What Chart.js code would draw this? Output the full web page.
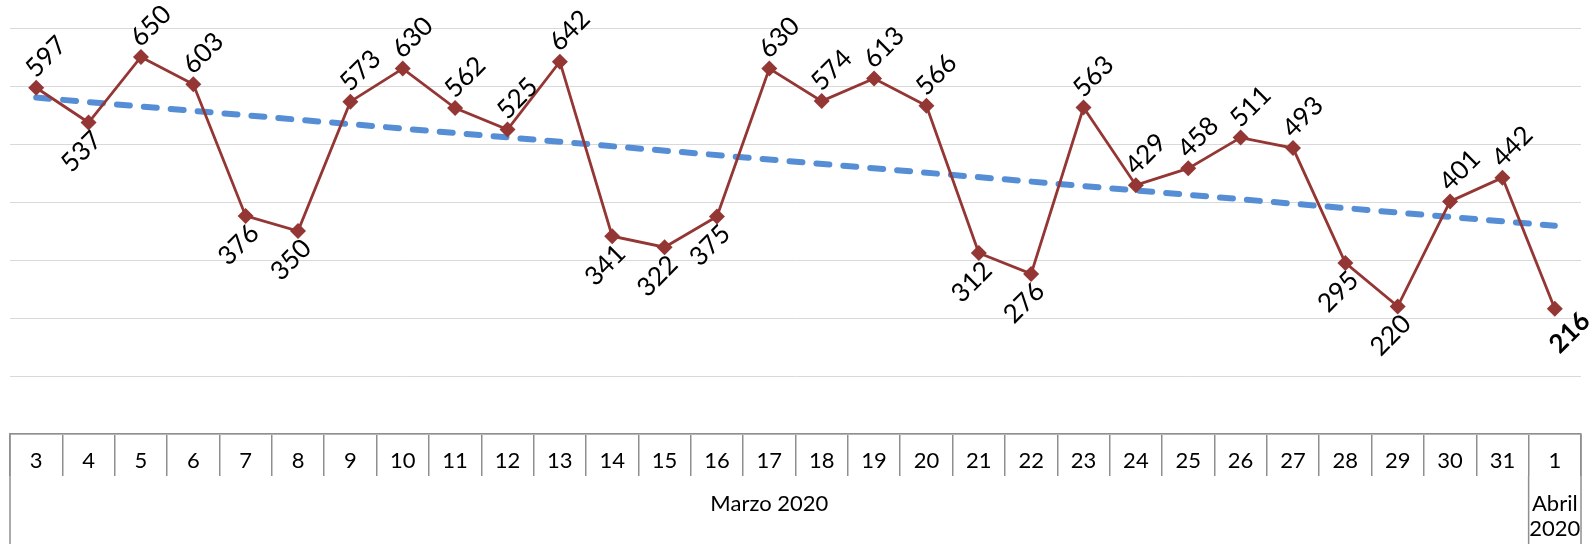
<!DOCTYPE html>
<html>
<head>
<meta charset="utf-8">
<script src="https://cdn.jsdelivr.net/npm/chart.js@4/dist/chart.umd.min.js"></script>
<style>
  html, body { margin: 0; padding: 0; background: #fff; }
  #wrap { width: 1590px; height: 544px; }
</style>
</head>
<body>
<div id="wrap"><canvas id="myChart"></canvas></div>
<script>
// dias (marzo 3 -> abril 1)
const dias = ['3', '4', '5', '6', '7', '8', '9', '10', '11', '12', '13', '14', '15', '16', '17',
    '18', '19', '20', '21', '22', '23', '24', '25', '26', '27', '28', '29', '30', '31', '1'];
const casos = [597, 537, 650, 603, 376, 350, 573, 630, 562, 525, 642, 341, 322, 375, 630,
    574, 613, 566, 312, 276, 563, 429, 458, 511, 493, 295, 220, 401, 442, 216];
// linea de tendencia: valores leidos al inicio y al final
const tendenciaExtremos = [580, 359];
const meses = ['Marzo 2020', 'Abril 2020'];
const diasPorMes = [29, 1];
const yTicks = [0, 100, 200, 300, 400, 500, 600, 700];

const FONT = 'Lato, "Noto Sans", sans-serif';
const GRIS_TABLA = '#8f8f8f';

const tendencia = casos.map((v, i) => {
    if (i === 0) return tendenciaExtremos[0];
    if (i === casos.length - 1) return tendenciaExtremos[1];
    return null;
});

function valorTendencia(i) {
    const n = casos.length - 1;
    return tendenciaExtremos[0] + (tendenciaExtremos[1] - tendenciaExtremos[0]) * i / n;
}

// etiquetas de valor giradas 45 grados
const etiquetas = {
    id: 'etiquetas',
    afterDatasetsDraw(chart) {
        const ctx = chart.ctx;
        const meta = chart.getDatasetMeta(0);
        ctx.save();
        ctx.textAlign = 'center';
        ctx.textBaseline = 'middle';
        ctx.fillStyle = '#000';
        meta.data.forEach((pt, i) => {
            const v = casos[i];
            const arriba = v >= valorTendencia(i);
            const ultimo = i === casos.length - 1;
            ctx.font = (ultimo ? 'bold ' : '') + '26px ' + FONT;
            let dx = arriba ? 10 : -7;
            let dy = arriba ? -31 : 29;
            if (ultimo) { dx = 15; dy = 24; }
            ctx.save();
            ctx.translate(pt.x + dx, pt.y + dy);
            ctx.rotate(-Math.PI / 4);
            ctx.fillText(String(v), 0, 0);
            ctx.restore();
        });
        ctx.restore();
    }
};

// tabla del eje x: dias, meses y lineas exteriores
const tablaEje = {
    id: 'tablaEje',
    afterDraw(chart) {
        const ctx = chart.ctx;
        const x = chart.scales.x;
        const ancho = x.getPixelForTick(1) - x.getPixelForTick(0);
        const top = chart.chartArea.bottom;
        const bottom = chart.height;
        ctx.save();
        ctx.strokeStyle = GRIS_TABLA;
        ctx.lineWidth = 1.5;
        ctx.fillStyle = '#000';
        ctx.textAlign = 'center';
        ctx.textBaseline = 'middle';
        ctx.font = '22px ' + FONT;
        dias.forEach((d, i) => ctx.fillText(d, x.getPixelForTick(i), top + 27));
        let inicio = 0;
        const bordes = [x.getPixelForTick(0) - ancho / 2];
        meses.forEach((m, k) => {
            const fin = inicio + diasPorMes[k] - 1;
            const x0 = x.getPixelForTick(inicio) - ancho / 2;
            const x1 = x.getPixelForTick(fin) + ancho / 2;
            bordes.push(x1);
            let lineas = [m];
            if (ctx.measureText(m).width > x1 - x0 - 4) lineas = m.split(' ');
            lineas.forEach((t, j) => ctx.fillText(t, (x0 + x1) / 2, top + 70 + j * 25));
            inicio = fin + 1;
        });
        bordes.forEach((bx, k) => {
            ctx.beginPath();
            ctx.moveTo(bx, k === 0 || k === bordes.length - 1 ? top : top + 42);
            ctx.lineTo(bx, bottom);
            ctx.stroke();
        });
        ctx.restore();
    }
};

const config = {
    type: 'line',
    data: {
        labels: dias,
        datasets: [{
            label: 'Casos',
            data: casos,
            borderColor: '#943634',
            backgroundColor: '#943634',
            borderWidth: 2.8,
            pointStyle: 'rectRot',
            pointRadius: 8,
            pointBackgroundColor: '#943634',
            pointBorderWidth: 0,
            tension: 0,
            fill: false,
        }, {
            label: 'Tendencia',
            data: tendencia,
            borderColor: '#558ed5',
            borderWidth: 6,
            borderDash: [13, 14],
            borderCapStyle: 'round',
            pointRadius: 0,
            spanGaps: true,
            fill: false,
        }]
    },
    options: {
        responsive: true,
        maintainAspectRatio: false,
        animation: false,
        layout: {
            padding: { left: 10, right: 9, top: 28, bottom: 68 }
        },
        scales: {
            x: {
                offset: true,
                grid: {
                    offset: true,
                    drawOnChartArea: false,
                    drawTicks: true,
                    tickLength: 42,
                    color: GRIS_TABLA,
                    lineWidth: 1.5,
                },
                border: { display: true, color: GRIS_TABLA, width: 1.5 },
                ticks: { display: false, autoSkip: false }
            },
            y: {
                min: 0,
                max: 700,
                afterBuildTicks(scale) {
                    scale.ticks = yTicks.map(v => ({ value: v }));
                },
                ticks: { display: false },
                grid: { color: '#d9d9d9', lineWidth: 1, drawTicks: false },
                border: { display: false },
            }
        },
        plugins: {
            legend: { display: false },
            title: { display: false },
            tooltip: { enabled: false },
        }
    },
    plugins: [etiquetas, tablaEje]
};

const myChart = new Chart(document.getElementById('myChart'), config);
</script>
</body>
</html>
